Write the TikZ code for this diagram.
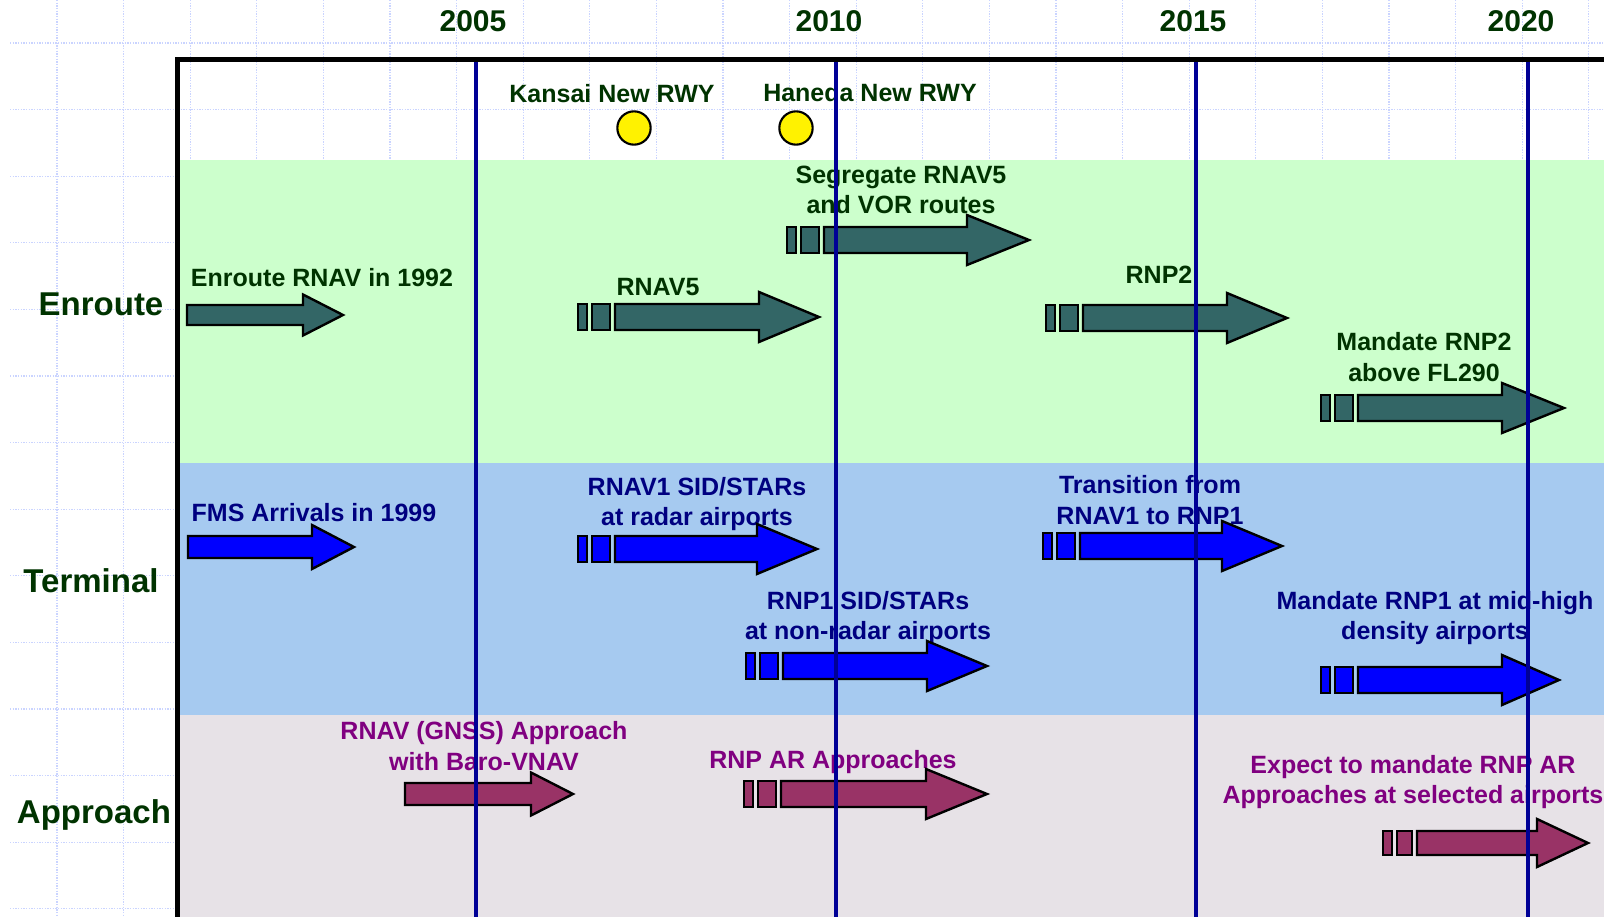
\documentclass[tikz,border=0pt]{standalone}
\usepackage{fontspec}
\setmainfont{Liberation Sans}
\definecolor{egreen}{RGB}{0,51,0}
\definecolor{tnavy}{RGB}{0,0,128}
\definecolor{apurple}{RGB}{128,0,128}
\definecolor{bandG}{RGB}{204,255,204}
\definecolor{bandB}{RGB}{166,202,240}
\definecolor{bandP}{RGB}{231,226,231}
\definecolor{arrE}{RGB}{51,102,102}
\definecolor{arrT}{RGB}{0,0,255}
\definecolor{arrA}{RGB}{153,51,102}
\definecolor{yline}{RGB}{0,0,150}
\definecolor{gridc}{RGB}{202,212,255}
\newcommand{\tlblk}[7]{% style, x0, xhead, xtip, yc, shaft half, head half
  \filldraw[#1] (#2,{#5-#6}) -- (#3,{#5-#6}) -- (#3,{#5-#7}) -- (#4,#5) -- (#3,{#5+#7}) -- (#3,{#5+#6}) -- (#2,{#5+#6}) -- cycle;}
\newcommand{\tlsarr}[5]{% style, a, xhead, xtip, yc
  \filldraw[#1] (#2,{#5-13}) rectangle ({#2+9},{#5+13});
  \filldraw[#1] ({#2+14},{#5-13}) rectangle ({#2+32},{#5+13});
  \tlblk{#1}{#2+37}{#3}{#4}{#5}{13}{25}}
\begin{document}
\begin{tikzpicture}[x=0.75pt,y=-0.75pt,
  gridl/.style={draw=gridc,line width=0.8pt,dash pattern=on 1.1pt off 0.9pt},
  lbl/.style={font=\bfseries\fontsize{18.75}{23}\selectfont,align=center,inner sep=0pt},
  yearlbl/.style={font=\bfseries\fontsize{22.5}{26}\selectfont,text=egreen,inner sep=0pt},
  rowlbl/.style={font=\bfseries\fontsize{24.75}{28}\selectfont,text=egreen,inner sep=0pt},
  aE/.style={fill=arrE,draw=black,line width=1.8pt,line join=miter},
  aT/.style={fill=arrT,draw=black,line width=1.8pt,line join=miter},
  aA/.style={fill=arrA,draw=black,line width=1.8pt,line join=miter},
  yearline/.style={draw=yline,line width=2.5pt},
  rwy/.style={circle,fill=yellow,draw=black,line width=1.6pt,minimum size=25pt,inner sep=0pt}]
\useasboundingbox (0,0) rectangle (1604,917);
\fill[white] (0,0) rectangle (1604,917);
% background grid
\foreach \k in {0,...,23} \draw[gridl] ({57+66.6*\k},0) -- ({57+66.6*\k},917);
\foreach \k in {0,...,13} \draw[gridl] (10,{43+66.6*\k}) -- (1604,{43+66.6*\k});
% bands
\fill[bandG] (179,160) rectangle (1604,463);
\fill[bandB] (179,463) rectangle (1604,715);
\fill[bandP] (179,715) rectangle (1604,917);
% frame
\draw[line width=3.75pt,line join=miter] (177,917) -- (177,60) -- (1604,60);
% year labels
\node[yearlbl] (y2005) at (473,21) {2005};
\node[yearlbl] (y2010) at (829,21) {2010};
\node[yearlbl] (y2015) at (1193,21) {2015};
\node[yearlbl] (y2020) at (1521,21) {2020};
% row labels
\node[rowlbl] (rEn) at (101,304) {Enroute};
\node[rowlbl] (rTe) at (91,581) {Terminal};
\node[rowlbl] (rAp) at (94,815) {Approach};
% runway events
\node[lbl,text=egreen] (tkansai) at (612,94) {Kansai New RWY};
\node[lbl,text=egreen] (thaneda) at (870,93) {Haneda New RWY};
\node[rwy] (ckansai) at (634,128) {};
\node[rwy] (chaneda) at (796,128) {};
% enroute
\node[lbl,text=egreen] (t1992) at (322,278) {Enroute RNAV in 1992};
\tlblk{aE}{187}{303}{343}{315}{10}{20.5}
\node[lbl,text=egreen] (tseg) at (901,190) {Segregate RNAV5\\and VOR routes};
\tlsarr{aE}{787}{967}{1029}{240}
\node[lbl,text=egreen] (trnav5) at (658,287) {RNAV5};
\tlsarr{aE}{578}{759}{819}{317}
\node[lbl,text=egreen] (trnp2) at (1159,275) {RNP2};
\tlsarr{aE}{1046}{1227}{1287}{318}
\node[lbl,text=egreen] (tmrnp2) at (1424,357) {Mandate RNP2\\above FL290};
\tlsarr{aE}{1321}{1502}{1564}{408}
% terminal
\node[lbl,text=tnavy] (tfms) at (314,513) {FMS Arrivals in 1999};
\tlblk{aT}{188}{312}{354}{547}{11}{22}
\node[lbl,text=tnavy] (trnav1) at (697,504) {RNAV1 SID/STARs\\at radar airports};
\tlsarr{aT}{578}{757}{817}{549}
\node[lbl,text=tnavy] (ttrans) at (1150,500) {Transition from\\RNAV1 to RNP1};
\tlsarr{aT}{1043}{1222}{1282}{546}
\node[lbl,text=tnavy] (trnp1) at (868,618) {RNP1 SID/STARs\\at non-radar airports};
\tlsarr{aT}{746}{927}{987}{666}
\node[lbl,text=tnavy] (tmrnp1) at (1435,618) {Mandate RNP1 at mid-high\\density airports};
\tlsarr{aT}{1321}{1502}{1559}{680}
% approach
\node[lbl,text=apurple] (tgnss) at (484,746) {RNAV (GNSS) Approach\\with Baro-VNAV};
\tlblk{aA}{405}{531}{573}{794}{11}{21.5}
\node[lbl,text=apurple] (trnpar) at (833,762) {RNP AR Approaches};
\tlsarr{aA}{744}{926}{987}{794}
\node[lbl,text=apurple] (texp) at (1413,782) {Expect to mandate RNP AR\\Approaches at selected airports};
\filldraw[aA] (1383,{843-12}) rectangle (1392,{843+12});
\filldraw[aA] (1397,{843-12}) rectangle (1412,{843+12});
\tlblk{aA}{1417}{1537}{1588}{843}{12}{24}
% year lines on top
\draw[yearline] (476,62) -- (476,917);
\draw[yearline] (836,62) -- (836,917);
\draw[yearline] (1196,62) -- (1196,917);
\draw[yearline] (1528,62) -- (1528,917);
\end{tikzpicture}
\end{document}
